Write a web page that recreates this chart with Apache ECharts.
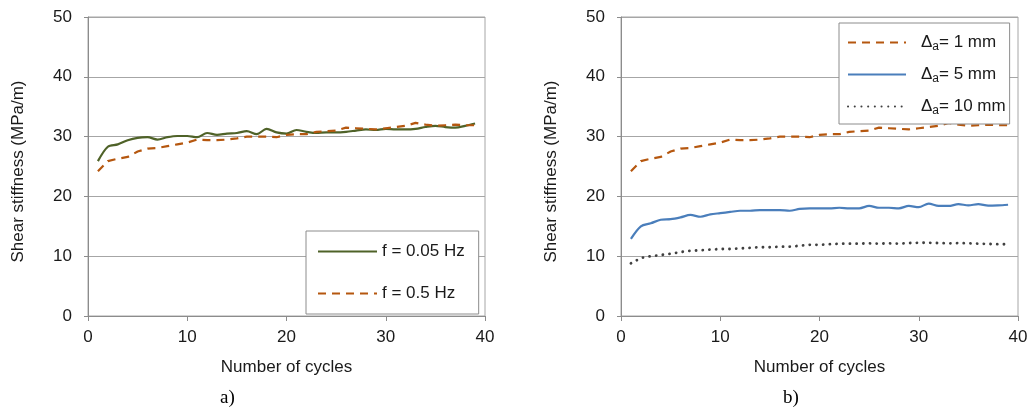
<!DOCTYPE html>
<html>
<head>
<meta charset="utf-8">
<script src="https://cdn.jsdelivr.net/npm/echarts@6/dist/echarts.min.js"></script>
<style>
html,body{margin:0;padding:0;background:#fff;}
#c{width:1031px;height:411px;}
</style>
</head>
<body>
<div id="c"></div>
<script>
// ---- data ----
var cycles = [1,2,3,4,5,6,7,8,9,10,11,12,13,14,15,16,17,18,19,20,21,22,23,24,25,26,27,28,29,30,31,32,33,34,35,36,37,38,39];
var f005 = [25.9,28.3,28.7,29.4,29.8,29.9,29.5,29.9,30.1,30.1,29.9,30.6,30.3,30.5,30.6,30.9,30.4,31.3,30.7,30.5,31.1,30.8,30.6,30.7,30.7,30.8,31.0,31.2,31.1,31.3,31.2,31.2,31.3,31.6,31.8,31.6,31.5,31.8,32.2];
var d1mm = [24.2,25.9,26.3,26.6,27.5,28.0,28.1,28.4,28.7,29.0,29.5,29.4,29.4,29.5,29.7,30.0,30.0,30.0,29.9,30.3,30.4,30.4,30.8,30.9,31.0,31.5,31.4,31.3,31.2,31.4,31.6,31.8,32.3,32.0,31.8,31.9,32.0,31.9,31.9];
var f05 = d1mm;
var d5mm = [12.9,15.0,15.5,16.1,16.2,16.5,16.9,16.6,17.0,17.2,17.4,17.6,17.6,17.7,17.7,17.7,17.6,17.9,18.0,18.0,18.0,18.1,18.0,18.0,18.4,18.1,18.1,18.0,18.4,18.2,18.8,18.4,18.4,18.7,18.5,18.7,18.45,18.5,18.6];
var d10mm = [8.8,9.7,10.0,10.2,10.4,10.7,10.9,11.0,11.1,11.2,11.2,11.3,11.4,11.5,11.5,11.6,11.6,11.75,11.9,11.9,12.0,12.1,12.1,12.1,12.15,12.1,12.15,12.1,12.2,12.25,12.25,12.2,12.15,12.2,12.15,12.1,12.05,12.0,12.0];
var xTicks = [0,10,20,30,40];
var yTicks = [0,10,20,30,40,50];
var names = ['f = 0.05 Hz','f = 0.5 Hz','D1','D5','D10'];
var rightLabels = {D1:'1 mm', D5:'5 mm', D10:'10 mm'};
var panelLabels = ['a)','b)'];
var xTitle = 'Number of cycles';
var yTitle = 'Shear stiffness (MPa/m)';

function pairs(xs, ys){ return xs.map(function(x,i){return [x, ys[i]];}); }

var FONT = '"Liberation Sans", Arial, sans-serif';
var GREEN = '#4F6228', ORANGE = '#B5570F', BLUE = '#4A7EBB', DARK = '#404040';
var AX = '#8C8C8C', GRIDC = '#A6A6A6', TXT = '#1a1a1a';

function xAxis(i){
  return {type:'value', gridIndex:i, min:xTicks[0], max:xTicks[xTicks.length-1], interval:10,
    axisLine:{show:true, onZero:false, lineStyle:{color:AX, width:1}},
    axisTick:{show:true, length:5, lineStyle:{color:AX}},
    splitLine:{show:false},
    axisLabel:{color:TXT, fontFamily:FONT, fontSize:17, margin:13},
    name:xTitle, nameLocation:'middle', nameGap:43,
    nameTextStyle:{color:TXT, fontFamily:FONT, fontSize:17}};
}
function yAxis(i){
  return {type:'value', gridIndex:i, min:yTicks[0], max:yTicks[yTicks.length-1], interval:10,
    axisLine:{show:true, lineStyle:{color:AX, width:1}},
    axisTick:{show:true, length:4, lineStyle:{color:AX}},
    splitLine:{show:true, lineStyle:{color:GRIDC, width:1}},
    axisLabel:{color:TXT, fontFamily:FONT, fontSize:17, margin:16},
    name:yTitle, nameLocation:'middle', nameGap:61,
    nameTextStyle:{color:TXT, fontFamily:FONT, fontSize:17, padding:[0,0,0,-10]}};
}

var chart = echarts.init(document.getElementById('c'), null, {renderer:'canvas'});
chart.setOption({
  backgroundColor:'#fff',
  animation:false,
  title:[
    {text:panelLabels[0], left:220, top:389, padding:0, textStyle:{fontFamily:'"Liberation Serif", "Times New Roman", serif', fontSize:19, fontWeight:'normal', color:'#000'}},
    {text:panelLabels[1], left:783, top:389, padding:0, textStyle:{fontFamily:'"Liberation Serif", "Times New Roman", serif', fontSize:19, fontWeight:'normal', color:'#000'}}
  ],
  grid:[
    {left:88, right:546, top:17, bottom:95, show:true, borderColor:GRIDC, borderWidth:1, containLabel:false},
    {left:621, right:13, top:17, bottom:95, show:true, borderColor:GRIDC, borderWidth:1, containLabel:false}
  ],
  xAxis:[xAxis(0), xAxis(1)],
  yAxis:[yAxis(0), yAxis(1)],
  legend:[
    {data:[names[0], names[1]], orient:'vertical', left:306, top:231,
     itemWidth:59, itemHeight:14, itemGap:25, padding:[12,14,12,11],
     borderColor:'#8C8C8C', borderWidth:1, backgroundColor:'#fff',
     itemStyle:{opacity:0},
     textStyle:{fontFamily:FONT, fontSize:17, color:TXT}},
    {data:[names[2], names[3], names[4]], orient:'vertical', left:839, top:23,
     itemWidth:58, itemHeight:14, itemGap:11, padding:[9,4,7,8],
     borderColor:'#8C8C8C', borderWidth:1, backgroundColor:'#fff',
     itemStyle:{opacity:0},
     formatter:function(n){ return '{d|Δ}{s|a}{d|= ' + rightLabels[n] + '}'; },
     textStyle:{fontFamily:FONT, fontSize:17, color:TXT, padding:[0,0,0,10],
       rich:{d:{fontFamily:FONT, fontSize:17, color:TXT, lineHeight:20},
             s:{fontFamily:FONT, fontSize:12, color:TXT, lineHeight:20, padding:[9,0,0,0]}}}}
  ],
  series:[
    {name:names[0], type:'line', xAxisIndex:0, yAxisIndex:0, data:pairs(cycles,f005), symbol:'none', smooth:0.3,
     lineStyle:{color:GREEN, width:2.2}, itemStyle:{color:GREEN}},
    {name:names[1], type:'line', xAxisIndex:0, yAxisIndex:0, data:pairs(cycles,f05), symbol:'none',
     lineStyle:{color:ORANGE, width:2.2, type:[8,6]}, itemStyle:{color:ORANGE}},
    {name:names[2], type:'line', xAxisIndex:1, yAxisIndex:1, data:pairs(cycles,d1mm), symbol:'none',
     lineStyle:{color:ORANGE, width:2.2, type:[8,6]}, itemStyle:{color:ORANGE}},
    {name:names[3], type:'line', xAxisIndex:1, yAxisIndex:1, data:pairs(cycles,d5mm), symbol:'none', smooth:0.3,
     lineStyle:{color:BLUE, width:2.2}, itemStyle:{color:BLUE}},
    {name:names[4], type:'line', xAxisIndex:1, yAxisIndex:1, data:pairs(cycles,d10mm), symbol:'none',
     lineStyle:{color:DARK, width:2.8, type:[0.1,6.6], cap:'round'}, itemStyle:{color:DARK}}
  ]
});
</script>
</body>
</html>
